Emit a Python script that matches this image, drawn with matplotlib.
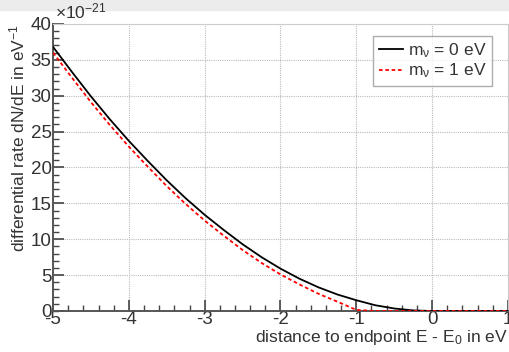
import matplotlib
matplotlib.use('Agg')
import matplotlib.pyplot as plt
from matplotlib.patches import Rectangle
from matplotlib.ticker import MultipleLocator

# distance to endpoint (eV) and rates (x 1e-21 per eV)
energy = [-5.0, -4.75, -4.5, -4.25, -4.0, -3.75, -3.5, -3.25, -3.0, -2.75,
          -2.5, -2.25, -2.0, -1.75, -1.5, -1.25, -1.0, -0.75, -0.5, -0.25,
          0.0, 0.25, 0.5, 0.75, 1.0]
rate_m0 = [36.8, 33.3, 29.9, 26.7, 23.7, 20.9, 18.2, 15.7, 13.4, 11.3,
           9.3, 7.5, 5.9, 4.5, 3.3, 2.3, 1.5, 0.8, 0.35, 0.08,
           0.0, 0.0, 0.0, 0.0, 0.0]
rate_m1 = [36.0, 32.5, 29.1, 25.9, 22.9, 20.1, 17.4, 14.9, 12.6, 10.5,
           8.5, 6.7, 5.1, 3.7, 2.4, 1.3, 0.15, 0.0, 0.0, 0.0,
           0.0, 0.0, 0.0, 0.0, 0.0]
labels = [r'm$_{\nu}$ = 0 eV', r'm$_{\nu}$ = 1 eV']

plt.rcParams['font.family'] = ['Liberation Sans', 'DejaVu Sans']
plt.rcParams['mathtext.fontset'] = 'custom'
plt.rcParams['mathtext.rm'] = 'Liberation Sans'
plt.rcParams['mathtext.it'] = 'Liberation Sans'
plt.rcParams['axes.unicode_minus'] = False

fig = plt.figure(figsize=(5.1, 3.52), dpi=100)
fig.add_artist(Rectangle((0, 1 - 10 / 352), 1, 10 / 352, transform=fig.transFigure,
                         color='#ececec', zorder=0))
ax = fig.add_axes([0.104, 0.1165, 0.892, 0.8155])

ax.plot(energy, rate_m0, color='black', lw=1.3, label=labels[0], zorder=3)
ax.plot(energy, rate_m1, color='red', lw=1.3, ls=(0, (2, 1.5)), label=labels[1], zorder=3)

ax.set_xlim(-5, 1)
ax.set_ylim(0, 40)
ax.xaxis.set_major_locator(MultipleLocator(1))
ax.xaxis.set_minor_locator(MultipleLocator(0.2))
ax.yaxis.set_major_locator(MultipleLocator(5))
ax.yaxis.set_minor_locator(MultipleLocator(1))
ax.tick_params(which='both', direction='in', top=False, right=False,
               colors='#444444', labelcolor='#333333', labelsize=13.5)
ax.tick_params(which='major', length=8, width=1.2)
ax.tick_params(which='minor', length=4, width=1.0)
ax.tick_params(axis='x', pad=0)
ax.tick_params(axis='y', pad=1)

ax.grid(True, which='major', color='#bbbbbb', ls=(0, (1, 1)), lw=0.8)
for s in ['left', 'bottom']:
    ax.spines[s].set_color('#555555')
    ax.spines[s].set_linewidth(1.4)
for s in ['top', 'right']:
    ax.spines[s].set_color('#cccccc')
    ax.spines[s].set_linewidth(0.8)

ax.set_xlabel(r'distance to endpoint E - E$_0$ in eV', fontsize=12.5, color='#333333',
              loc='right', labelpad=0)
ax.set_ylabel(r'differential rate dN/dE in eV$^{-1}$', fontsize=12.5, color='#333333',
              loc='top', labelpad=2)
ax.text(0.005, 1.008, r'$\times$10$^{-21}$', transform=ax.transAxes, fontsize=12.5,
        color='#333333', ha='left', va='bottom')

leg = ax.legend(loc='upper right', bbox_to_anchor=(0.965, 0.958), borderaxespad=0,
                fontsize=12.5, frameon=True, fancybox=False, handlelength=1.4,
                handletextpad=0.3, borderpad=0.3, labelspacing=0.1, labelcolor='#333333')
leg.get_frame().set_edgecolor('#999999')
leg.get_frame().set_linewidth(1.0)

fig.savefig('out.png', dpi=100)
